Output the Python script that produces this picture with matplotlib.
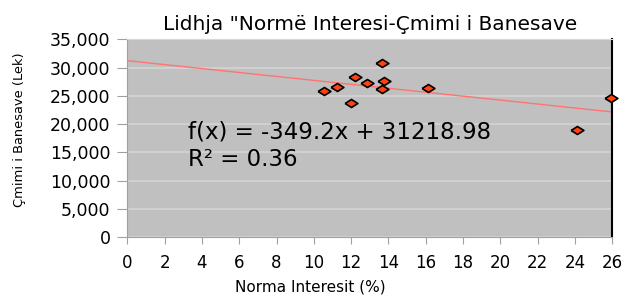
import matplotlib
matplotlib.use("Agg")
import matplotlib.pyplot as plt
import numpy as np

plt.rcParams['font.family'] = ['DejaVu Sans']

# Data
interest_rate = [10.55, 11.24, 11.98, 12.23, 12.87, 13.67, 13.76, 13.67, 16.14, 24.13, 25.92]
price = [25900, 26600, 23750, 28300, 27200, 30750, 27650, 26200, 26400, 18900, 24550]
trend_slope = -349.2
trend_intercept = 31218.98
r_squared = 0.36
x_ticks = list(range(0, 27, 2))
y_ticks = list(range(0, 35001, 5000))

fig = plt.figure(figsize=(6.25, 3.0), dpi=100)
ax = fig.add_axes([127.3/625, 1-237/300, (612.3-127.3)/625, (237-39.3)/300])
ax.set_facecolor('#c0c0c0')

ax.set_xlim(0, 26)
ax.set_ylim(0, 35000)
ax.set_xticks(x_ticks)
ax.set_yticks(y_ticks)
ax.set_yticklabels([f"{v:,}" for v in y_ticks])
ax.grid(axis='y', color='#d2d2d2', linewidth=1.3)
ax.set_axisbelow(True)

xs = np.array([0, 26])
ax.plot(xs, trend_slope*xs + trend_intercept, color='#ff7373', linewidth=1.0, zorder=2)
wide_diamond = [(-1.6, 0), (0, 1), (1.6, 0), (0, -1), (-1.6, 0)]
ax.scatter(interest_rate, price, marker=wide_diamond, s=85, facecolor='#ff420e',
           edgecolor='black', linewidth=1.2, zorder=3, clip_on=False)

for s in ['left', 'bottom']:
    ax.spines[s].set_color('#a0a0a0')
ax.spines['top'].set_color('#d8d8d8')
ax.spines['right'].set_color('black')
ax.spines['right'].set_linewidth(1.5)

ax.tick_params(axis='y', length=7, color='#a0a0a0', labelsize=12.5, pad=5)
ax.tick_params(axis='x', length=5, color='#a0a0a0', labelsize=12, pad=7)

ax.set_title('Lidhja "Normë Interesi-Çmimi i Banesave', fontsize=14.5, pad=7)
ax.set_xlabel('Norma Interesit (%)', fontsize=11)
ax.xaxis.set_label_coords((310-127.3)/485, -(280-237)/197.7)
ax.set_ylabel('Çmimi i Banesave (Lek)', fontsize=9.4)
ax.yaxis.set_label_coords(-(127.3-26)/485, (237-129.5)/197.7)

ax.text(3.25, 17500, f"f(x) = {trend_slope}x + {trend_intercept}", fontsize=16.5, va='baseline')
ax.text(3.25, 12570, f"R² = {r_squared}", fontsize=16.5, va='baseline')

fig.savefig('out.png', dpi=100)
